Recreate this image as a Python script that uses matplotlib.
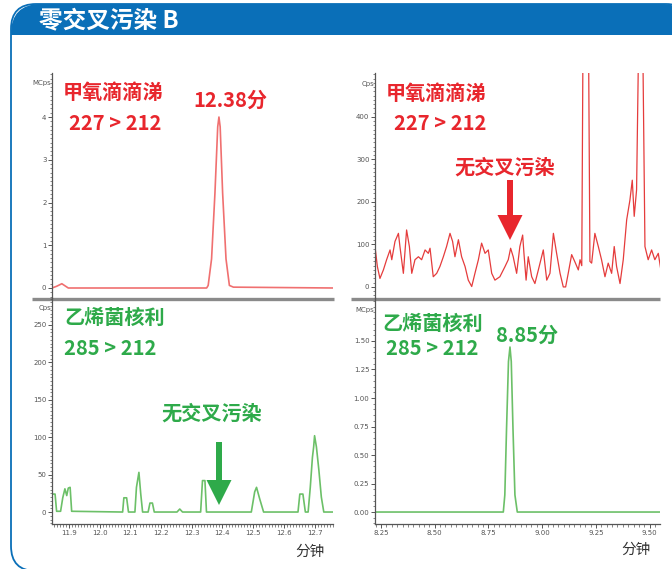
import matplotlib
matplotlib.use("Agg")
import matplotlib.pyplot as plt
from matplotlib.patches import FancyBboxPatch, Rectangle, FancyArrow
from matplotlib.ticker import MultipleLocator, FormatStrFormatter

plt.rcParams["font.family"] = ["Noto Sans CJK SC", "DejaVu Sans"]

# --- 甲氧滴滴涕 227 > 212, its own injection (MCps) ---
tl_time = [11.837, 11.852, 11.869, 11.890, 12.340, 12.345, 12.356, 12.367,
           12.376, 12.380, 12.384, 12.392, 12.403, 12.414, 12.427, 12.752]
tl_mcps = [0.0, 0.04, 0.10, 0.0, 0.0, 0.06, 0.68, 2.22,
           3.77, 4.0, 3.77, 2.22, 0.68, 0.06, 0.02, 0.0]
tl_yticks = [0, 1, 2, 3, 4]

# --- 甲氧滴滴涕 227 > 212, in the 乙烯菌核利 run (Cps) ---
tr_time = [8.222, 8.233, 8.245, 8.261, 8.276, 8.292, 8.300, 8.315, 8.331, 8.338,
           8.354, 8.369, 8.382, 8.393, 8.408, 8.424, 8.439, 8.455, 8.470, 8.478,
           8.493, 8.509, 8.524, 8.540, 8.555, 8.571, 8.583, 8.594, 8.610, 8.625,
           8.641, 8.656, 8.672, 8.687, 8.703, 8.718, 8.734, 8.749, 8.765, 8.780,
           8.803, 8.827, 8.842, 8.853, 8.865, 8.881, 8.896, 8.909, 8.915, 8.925,
           8.935, 8.951, 8.966, 8.982, 9.005, 9.021, 9.036, 9.052, 9.067, 9.083,
           9.098, 9.109, 9.121, 9.137, 9.152, 9.168, 9.176, 9.184, 9.191, 9.202,
           9.214, 9.222, 9.230, 9.245, 9.261, 9.276, 9.292, 9.307, 9.323, 9.335,
           9.346, 9.362, 9.377, 9.393, 9.408, 9.419, 9.428, 9.439, 9.447, 9.458,
           9.469, 9.478, 9.493, 9.509, 9.524, 9.540, 9.552]
tr_cps = [95, 48, 20, 40, 64, 87, 64, 107, 126, 95,
          32, 134, 95, 32, 64, 71, 64, 87, 79, 91,
          24, 32, 48, 71, 95, 126, 107, 71, 111, 71,
          48, 16, 1, 32, 64, 103, 79, 87, 32, 16,
          24, 48, 64, 91, 71, 32, 95, 122, 79, 16,
          71, 24, 8, 40, 87, 16, 32, 126, 79, 32,
          0, 0, 32, 76, 59, 40, 64, 50, 700, 2000,
          700, 60, 56, 126, 95, 64, 24, 56, 32, 95,
          48, 8, 64, 158, 204, 251, 166, 228, 520, 900,
          520, 95, 64, 87, 64, 79, 40]
tr_yticks = [0, 100, 200, 300, 400]

# --- 乙烯菌核利 285 > 212, in the 甲氧滴滴涕 run (Cps) ---
bl_time = [11.844, 11.855, 11.860, 11.873, 11.880, 11.887, 11.893, 11.898, 11.904, 11.909,
           12.075, 12.079, 12.088, 12.094, 12.115, 12.120, 12.128, 12.134, 12.140,
           12.158, 12.164, 12.172, 12.178, 12.252, 12.261, 12.270,
           12.329, 12.335, 12.343, 12.348, 12.494, 12.505, 12.511, 12.521, 12.534,
           12.646, 12.652, 12.662, 12.670, 12.679, 12.686, 12.693, 12.697, 12.700,
           12.706, 12.714, 12.722, 12.730, 12.760]
bl_cps = [24, 24, 1, 1, 19, 31, 22, 32, 33, 1,
          0, 19, 19, 0, 0, 33, 53, 24, 0,
          0, 12, 12, 0, 0, 4, 0,
          0, 42, 42, 0, 0, 27, 33, 18, 0,
          0, 24, 24, 0, 0, 33, 73, 87, 102,
          87, 56, 20, 0, 0]
bl_yticks = [0, 50, 100, 150, 200, 250]
bl_xticks = [11.9, 12.0, 12.1, 12.2, 12.3, 12.4, 12.5, 12.6, 12.7]

# --- 乙烯菌核利 285 > 212, its own injection (MCps) ---
br_time = [8.222, 8.819, 8.826, 8.834, 8.843, 8.85, 8.856, 8.864, 8.873, 8.884, 9.548]
br_mcps = [0.0, 0.0, 0.15, 0.73, 1.32, 1.447, 1.32, 0.73, 0.15, 0.0, 0.0]
br_yticks = [0.0, 0.25, 0.5, 0.75, 1.0, 1.25, 1.5]
br_xticks = [8.25, 8.5, 8.75, 9.0, 9.25, 9.5]

W, H = 672, 569
RED = "#e8262d"
GREEN = "#2eaa4a"
BLUE = "#0a6fb8"
TICK_GRAY = "#555555"
NARROW = ["Liberation Sans Narrow", "DejaVu Sans"]

fig = plt.figure(figsize=(W / 100, H / 100), dpi=100)

# background layer in pixel units: frame, header, separators, annotations
bg = fig.add_axes([0, 0, 1, 1], zorder=0)
bg.set_xlim(0, W)
bg.set_ylim(H, 0)
bg.axis("off")

frame = FancyBboxPatch((11, 4), 680, 567, boxstyle="round,pad=0,rounding_size=25",
                       facecolor="white", edgecolor=BLUE, linewidth=1.3)
bg.add_patch(frame)
header = FancyBboxPatch((11, 4), 680, 80, boxstyle="round,pad=0,rounding_size=30",
                        facecolor=BLUE, edgecolor="none")
bg.add_patch(header)
header.set_clip_path(Rectangle((0, 0), W, 35, transform=bg.transData))
bg.text(39, 20, "零交叉污染 B", color="white", fontsize=17, fontweight="bold",
        va="center", ha="left")

bg.plot([32, 334], [298.5, 298.5], color="#8a8a8a", lw=2.4, solid_capstyle="butt")
bg.plot([351, 660], [298.5, 298.5], color="#8a8a8a", lw=2.4, solid_capstyle="butt")


def px_rect(x0, y0, x1, y1):
    return [x0 / W, 1 - y1 / H, (x1 - x0) / W, (y1 - y0) / H]


def style_axes(ax, yticks, yminor, yfmt, show_x):
    for side in ("top", "right"):
        ax.spines[side].set_visible(False)
    ax.spines["left"].set_color(TICK_GRAY)
    ax.spines["left"].set_linewidth(0.9)
    ax.set_yticks(yticks)
    ax.yaxis.set_minor_locator(MultipleLocator(yminor))
    ax.yaxis.set_major_formatter(FormatStrFormatter(yfmt))
    ax.tick_params(axis="both", which="major", length=3, width=0.7, colors=TICK_GRAY,
                   labelsize=5, pad=1)
    ax.tick_params(axis="both", which="minor", length=1.8, width=0.5, colors=TICK_GRAY)
    for lab in ax.get_yticklabels() + ax.get_xticklabels():
        lab.set_family(NARROW)
    if show_x:
        ax.spines["bottom"].set_color(TICK_GRAY)
        ax.spines["bottom"].set_linewidth(0.9)
    else:
        ax.spines["bottom"].set_visible(False)
        ax.tick_params(axis="x", which="both", bottom=False, labelbottom=False)
    ax.set_facecolor("none")


# top-left
ax_tl = fig.add_axes(px_rect(52, 73, 333, 298), zorder=1)
ax_tl.plot(tl_time, tl_mcps, color="#f07070", lw=1.2)
ax_tl.set_xlim(11.837, 12.751)
ax_tl.set_ylim(-0.234, 5.03)
style_axes(ax_tl, tl_yticks, 0.1, "%d", False)

# top-right
ax_tr = fig.add_axes(px_rect(375, 73, 660, 298), zorder=1)
ax_tr.plot(tr_time, tr_cps, color="#e53c3c", lw=0.9)
ax_tr.set_xlim(8.222, 9.548)
ax_tr.set_ylim(-26, 503)
style_axes(ax_tr, tr_yticks, 10, "%d", False)

# bottom-left
ax_bl = fig.add_axes(px_rect(52, 298, 333, 524), zorder=1)
ax_bl.plot(bl_time, bl_cps, color="#6cc068", lw=1.2)
ax_bl.set_xlim(11.845, 12.76)
ax_bl.set_ylim(-16, 286)
ax_bl.set_xticks(bl_xticks)
ax_bl.xaxis.set_minor_locator(MultipleLocator(0.01))
ax_bl.xaxis.set_major_formatter(FormatStrFormatter("%.1f"))
style_axes(ax_bl, bl_yticks, 5, "%d", True)

# bottom-right
ax_br = fig.add_axes(px_rect(375, 298, 660, 524), zorder=1)
ax_br.plot(br_time, br_mcps, color="#6cc068", lw=1.2)
ax_br.set_xlim(8.222, 9.548)
ax_br.set_ylim(-0.105, 1.877)
ax_br.set_xticks(br_xticks)
ax_br.xaxis.set_minor_locator(MultipleLocator(0.025))
ax_br.xaxis.set_major_formatter(FormatStrFormatter("%.2f"))
style_axes(ax_br, br_yticks, 0.05, "%.2f", True)

# unit labels at the top of each y axis
unit_kw = dict(fontsize=5, color=TICK_GRAY, ha="right", va="center", family=NARROW)
bg.text(51, 83, "MCps", **unit_kw)
bg.text(374, 84, "Cps", **unit_kw)
bg.text(51, 308, "Cps", **unit_kw)
bg.text(374, 310, "MCps", **unit_kw)

# compound / transition labels
lab_kw = dict(fontsize=14.5, fontweight="bold", ha="center", va="center")
bg.text(113, 92, "甲氧滴滴涕", color=RED, **lab_kw)
bg.text(115, 123, "227 > 212", color=RED, **lab_kw)
bg.text(436, 93, "甲氧滴滴涕", color=RED, **lab_kw)
bg.text(440, 123, "227 > 212", color=RED, **lab_kw)
bg.text(115, 317, "乙烯菌核利", color=GREEN, **lab_kw)
bg.text(110, 348, "285 > 212", color=GREEN, **lab_kw)
bg.text(433, 323, "乙烯菌核利", color=GREEN, **lab_kw)
bg.text(432, 348, "285 > 212", color=GREEN, **lab_kw)

# retention time labels taken from the peak apex
tl_rt = tl_time[tl_mcps.index(max(tl_mcps))]
br_rt = br_time[br_mcps.index(max(br_mcps))]
bg.text(230, 100, f"{tl_rt:.2f}分", color=RED, **lab_kw)
bg.text(527, 335, f"{br_rt:.2f}分", color=GREEN, **lab_kw)

# "no cross contamination" callouts with arrows
bg.text(505, 167, "无交叉污染", color=RED, **lab_kw)
bg.add_patch(FancyArrow(510, 180, 0, 60, width=6, head_width=25, head_length=25,
                        length_includes_head=True, color=RED, lw=0))
bg.text(212, 413, "无交叉污染", color=GREEN, **lab_kw)
bg.add_patch(FancyArrow(219, 442, 0, 63, width=6, head_width=25, head_length=25,
                        length_includes_head=True, color=GREEN, lw=0))

# time axis captions
bg.text(310, 552, "分钟", fontsize=10.5, color="#333333", ha="center", va="center")
bg.text(636, 550, "分钟", fontsize=10.5, color="#333333", ha="center", va="center")

fig.savefig("out.png", dpi=100)
